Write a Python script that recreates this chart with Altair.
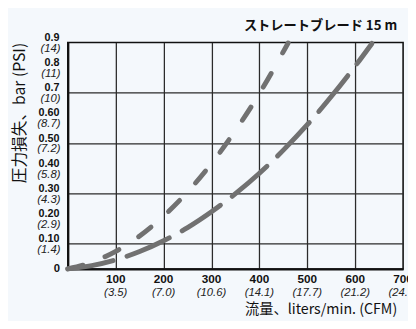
import altair as alt
import pandas as pd

# ---- data ----
flow_steep = [0, 50, 100, 150, 200, 250, 300, 350, 400, 460]
loss_steep = [0, 0.026, 0.070, 0.131, 0.210, 0.306, 0.419, 0.550, 0.697, 0.898]

flow_shallow = [0, 50, 100, 150, 200, 250, 300, 350, 400, 450, 500, 550, 600, 635]
loss_shallow = [0, 0.013, 0.036, 0.069, 0.112, 0.164, 0.227, 0.299, 0.380, 0.472, 0.573, 0.685, 0.806, 0.896]

x_ticks = [100, 200, 300, 400, 500, 600, 700]
x_lpm_labels = ["100", "200", "300", "400", "500", "600", "700"]
x_cfm_labels = ["(3.5)", "(7.0)", "(10.6)", "(14.1)", "(17.7)", "(21.2)", "(24.7)"]

y_ticks = [0.1, 0.2, 0.3, 0.4, 0.5, 0.6, 0.7, 0.8, 0.9]
y_bar_labels = ["0.10", "0.20", "0.30", "0.40", "0.50", "0.60", "0.7", "0.8", "0.9"]
y_psi_labels = ["(1.4)", "(2.9)", "(4.3)", "(5.8)", "(7.2)", "(8.7)", "(10)", "(11)", "(14)"]

title_text = "ストレートブレード 15 m"
x_title = "流量、liters/min. (CFM)"
y_title = "圧力損失、bar (PSI)"

W, H = 342, 231
BG = "#f4f8fc"
LINE = "#717171"

steep_df = pd.DataFrame({"flow": flow_steep, "loss": loss_steep})
shallow_df = pd.DataFrame({"flow": flow_shallow, "loss": loss_shallow})
xl_df = pd.DataFrame({"v": x_ticks, "lpm": x_lpm_labels, "cfm": x_cfm_labels})
yl_df = pd.DataFrame({"v": y_ticks, "bar": y_bar_labels, "psi": y_psi_labels})
zero_df = pd.DataFrame({"v": [0], "t": ["0"]})

xs = alt.Scale(domain=[0, 700], nice=False, zero=True)
ys = alt.Scale(domain=[0, 0.9], nice=False, zero=True)

x_axis = alt.Axis(values=[100, 200, 300, 400, 500, 600], labels=False, ticks=False,
                  title=None, grid=True, gridColor="#2b2b2b", gridWidth=1.3,
                  domain=True, domainColor="#111", domainWidth=2.2)
y_axis = alt.Axis(values=[0.1, 0.2, 0.3, 0.4, 0.5, 0.6, 0.7, 0.8], labels=False, ticks=False,
                  title=None, grid=True, gridColor="#2b2b2b", gridWidth=1.3,
                  domain=True, domainColor="#111", domainWidth=2.2)

steep = alt.Chart(steep_df).mark_line(
    color=LINE, strokeWidth=5, strokeCap="round", strokeDash=[16, 24], interpolate="monotone"
).encode(
    x=alt.X("flow:Q", scale=xs, axis=x_axis),
    y=alt.Y("loss:Q", scale=ys, axis=y_axis),
)

shallow = alt.Chart(shallow_df).mark_line(
    color=LINE, strokeWidth=5, strokeCap="round", strokeDash=[47, 15], interpolate="monotone"
).encode(
    x=alt.X("flow:Q", scale=xs),
    y=alt.Y("loss:Q", scale=ys),
)

x_lpm = alt.Chart(xl_df).mark_text(
    font="Liberation Sans", fontWeight="bold", fontSize=12, color="#111",
    baseline="alphabetic", align="center"
).encode(x=alt.X("v:Q", scale=xs), y=alt.value(H + 14.5), text="lpm:N")

x_cfm = alt.Chart(xl_df).mark_text(
    font="Liberation Sans", fontStyle="italic", fontSize=11.5, color="#222",
    baseline="alphabetic", align="center"
).encode(x=alt.X("v:Q", scale=xs), y=alt.value(H + 28), text="cfm:N")

y_bar = alt.Chart(yl_df).mark_text(
    font="Liberation Sans", fontWeight="bold", fontSize=11, color="#111",
    baseline="alphabetic", align="right", dy=-1.5
).encode(x=alt.value(-8.5), y=alt.Y("v:Q", scale=ys), text="bar:N")

y_psi = alt.Chart(yl_df).mark_text(
    font="Liberation Sans", fontStyle="italic", fontSize=11.5, color="#222",
    baseline="top", align="right", dy=0.5
).encode(x=alt.value(-7.5), y=alt.Y("v:Q", scale=ys), text="psi:N")

y_zero = alt.Chart(zero_df).mark_text(
    font="Liberation Sans", fontWeight="bold", fontSize=11.5, color="#111",
    baseline="middle", align="right"
).encode(x=alt.value(-8), y=alt.Y("v:Q", scale=ys), text="t:N")

title = alt.Chart(pd.DataFrame({"t": [title_text]})).mark_text(
    font="Noto Sans CJK JP", fontWeight="bold", fontSize=13.5, color="#111",
    align="right", baseline="alphabetic"
).encode(x=alt.value(336), y=alt.value(-13), text="t:N")

xt = alt.Chart(pd.DataFrame({"t": [x_title]})).mark_text(
    font="Noto Sans CJK JP", fontSize=14.5, color="#111",
    align="right", baseline="alphabetic"
).encode(x=alt.value(336), y=alt.value(H + 46), text="t:N")

yt = alt.Chart(pd.DataFrame({"t": [y_title]})).mark_text(
    font="Noto Sans CJK JP", fontSize=16, color="#111",
    align="center", baseline="middle", angle=270
).encode(x=alt.value(-49), y=alt.value(72), text="t:N")

chart = alt.layer(
    steep, shallow, x_lpm, x_cfm, y_bar, y_psi, y_zero, title, xt, yt
).properties(
    width=W, height=H,
    autosize=alt.AutoSizeParams(type="none"),
    padding={"left": 61, "top": 32, "right": 5, "bottom": 50},
    background=BG,
).configure_view(
    stroke="#111", strokeWidth=1.6, fill=BG
)

chart.save("out.html", embed_options={"renderer": "svg", "actions": False})
